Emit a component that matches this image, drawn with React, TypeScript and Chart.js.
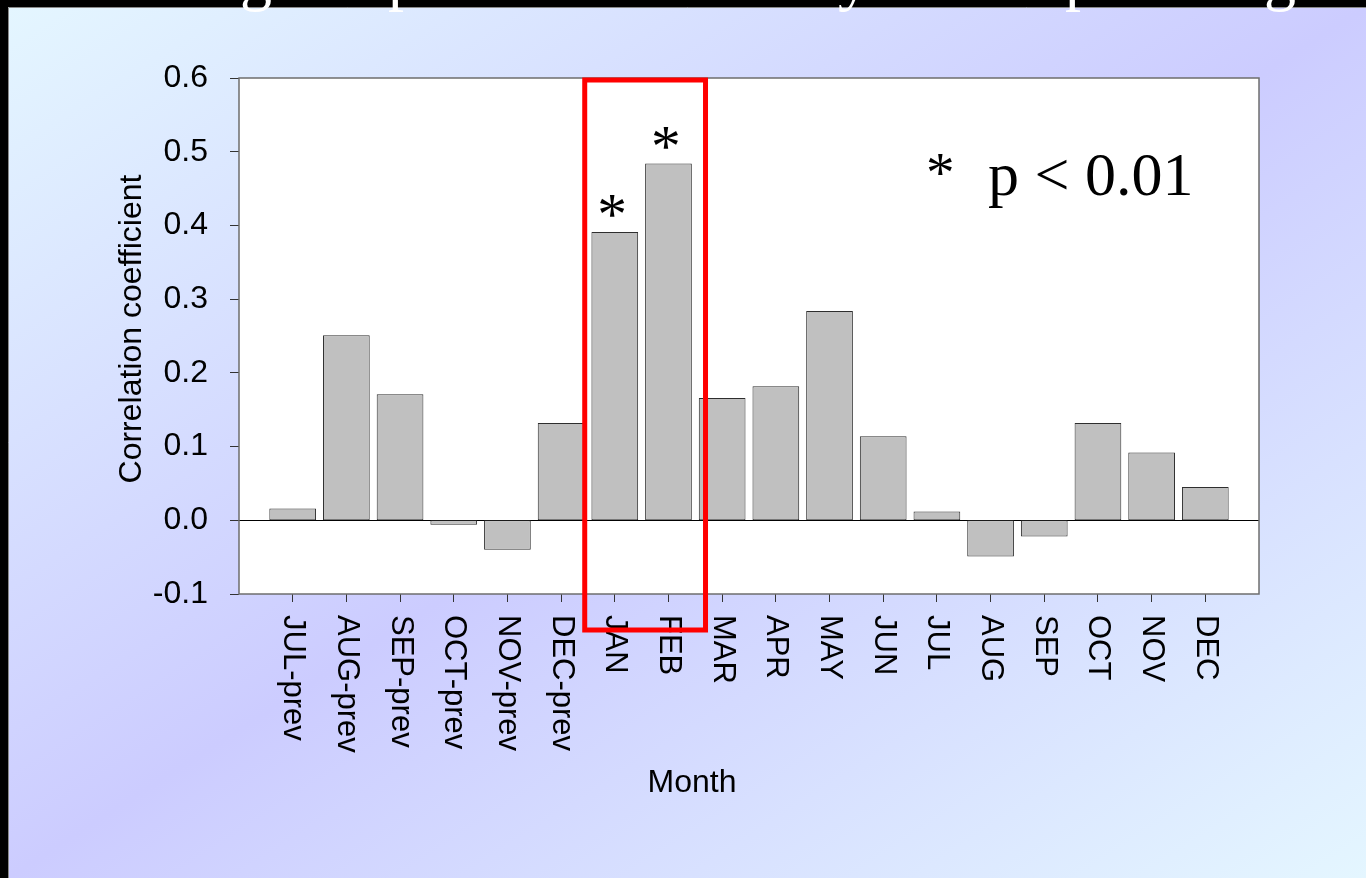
import React, { useEffect, useRef } from "react";
import { Chart, registerables } from "chart.js";

Chart.register(...registerables);

const categories = [
  "JUL-prev", "AUG-prev", "SEP-prev", "OCT-prev", "NOV-prev", "DEC-prev",
  "JAN", "FEB", "MAR", "APR", "MAY", "JUN", "JUL", "AUG", "SEP", "OCT", "NOV", "DEC",
];
const correlation = [
  0.016, 0.251, 0.171, -0.006, -0.040, 0.132,
  0.391, 0.484, 0.166, 0.182, 0.284, 0.114, 0.012, -0.049, -0.022, 0.132, 0.092, 0.045,
];
const yMin = -0.1;
const yMax = 0.6;
const yStep = 0.1;
const significantMonths = ["JAN", "FEB"];
const significanceSymbol = "*";
const significanceLabel = "p < 0.01";
const highlightMonths = ["JAN", "FEB"];
const xAxisTitle = "Month";
const yAxisTitle = "Correlation coefficient";
const titleFragments = ["g", "p", "y", "p", "g"];

const SANS = "Arial, 'Liberation Sans', sans-serif";
const SERIF = "'Times New Roman', 'Liberation Serif', serif";

// padded category axis: one empty slot on each side
const paddedLabels = ["", ...categories, ""];
const paddedData = [null, ...correlation, null];

function drawStar(ctx: CanvasRenderingContext2D, text: string, cx: number, cy: number, inkW: number) {
  ctx.textAlign = "left";
  ctx.textBaseline = "alphabetic";
  ctx.font = `100px ${SERIF}`;
  const m0 = ctx.measureText(text);
  const w0 = m0.actualBoundingBoxRight + m0.actualBoundingBoxLeft;
  const size = w0 > 0 ? (100 * inkW) / w0 : 62;
  ctx.font = `${size}px ${SERIF}`;
  const m = ctx.measureText(text);
  const x = cx - (m.actualBoundingBoxRight - m.actualBoundingBoxLeft) / 2;
  const y = cy + (m.actualBoundingBoxAscent - m.actualBoundingBoxDescent) / 2;
  ctx.fillText(text, x, y);
}

const decorPlugin = {
  id: "decor",
  beforeDraw(chart: any) {
    const { ctx, width, height, chartArea: a } = chart;
    ctx.save();
    ctx.fillStyle = "#000";
    ctx.fillRect(0, 0, width, height);
    const gx = 8, gy = 7, gw = width - gx, gh = height - gy;
    ctx.save();
    ctx.translate(gx, gy);
    ctx.scale(gw, gh);
    const g = ctx.createLinearGradient(0, 0, 1, 1);
    g.addColorStop(0, "#e4f6ff");
    g.addColorStop(0.5, "#ccccff");
    g.addColorStop(1, "#e4f6ff");
    ctx.fillStyle = g;
    ctx.fillRect(0, 0, 1, 1);
    ctx.restore();
    ctx.strokeStyle = "#8a8a8a";
    ctx.lineWidth = 1;
    ctx.beginPath();
    ctx.moveTo(gx + 0.5, height);
    ctx.lineTo(gx + 0.5, gy + 0.5);
    ctx.lineTo(width, gy + 0.5);
    ctx.stroke();
    ctx.fillStyle = "#ffffff";
    ctx.fillRect(a.left, a.top, a.right - a.left, a.bottom - a.top);
    ctx.restore();
  },
  beforeDatasetsDraw(chart: any) {
    const { ctx, chartArea: a, scales } = chart;
    const y0 = Math.round(scales.y.getPixelForValue(0)) + 0.5;
    ctx.save();
    ctx.strokeStyle = "#000";
    ctx.lineWidth = 1;
    ctx.beginPath();
    ctx.moveTo(a.left, y0);
    ctx.lineTo(a.right, y0);
    ctx.stroke();
    ctx.strokeStyle = "#6e6e6e";
    ctx.lineWidth = 1.5;
    ctx.strokeRect(a.left, a.top, a.right - a.left, a.bottom - a.top);
    ctx.restore();
  },
  afterDraw(chart: any) {
    const { ctx, chartArea: a, scales } = chart;
    const xs = scales.x;
    const ys = scales.y;
    ctx.save();
    // x tick labels, rotated clockwise
    ctx.fillStyle = "#000";
    ctx.font = `31px ${SANS}`;
    categories.forEach((c, i) => {
      const x = xs.getPixelForValue(i + 1);
      ctx.save();
      ctx.translate(x, a.bottom + 21);
      ctx.rotate(Math.PI / 2);
      ctx.textAlign = "left";
      ctx.textBaseline = "middle";
      ctx.fillText(c, 0, 0);
      ctx.restore();
    });
    // axis titles
    ctx.font = `32px ${SANS}`;
    ctx.textAlign = "center";
    ctx.textBaseline = "middle";
    ctx.fillText(xAxisTitle, (a.left + a.right) / 2 - 57, 783);
    ctx.save();
    ctx.translate(132, (a.top + a.bottom) / 2 - 7);
    ctx.rotate(-Math.PI / 2);
    ctx.fillText(yAxisTitle, 0, 0);
    ctx.restore();

    // significance stars
    significantMonths.forEach((m) => {
      const i = categories.indexOf(m);
      const x = xs.getPixelForValue(i + 1);
      const y = ys.getPixelForValue(correlation[i]) - 26;
      drawStar(ctx, significanceSymbol, x - 3, y, 25);
    });
    // legend note
    drawStar(ctx, significanceSymbol, 940, 165, 24);
    ctx.font = `62px ${SERIF}`;
    ctx.textAlign = "left";
    ctx.textBaseline = "alphabetic";
    ctx.fillText(significanceLabel, 988, 195);

    // red highlight box
    const spacing = xs.getPixelForValue(2) - xs.getPixelForValue(1);
    const i0 = categories.indexOf(highlightMonths[0]);
    const i1 = categories.indexOf(highlightMonths[highlightMonths.length - 1]);
    const left = xs.getPixelForValue(i0 + 1) - 0.56 * spacing;
    const right = xs.getPixelForValue(i1 + 1) + 0.69 * spacing;
    const top = ys.getPixelForValue(yMax) + 2;
    const bottom = ys.getPixelForValue(yMin) + 36;
    ctx.strokeStyle = "#ff0000";
    ctx.lineWidth = 5;
    ctx.strokeRect(left, top, right - left, bottom - top);

    // title fragments (cut off at top)
    ctx.fillStyle = "#ffffff";
    ctx.font = `64px ${SERIF}`;
    const fx = [240, 388, 838, 1065, 1264];
    titleFragments.forEach((t, k) => {
      ctx.fillText(t, fx[k], -2);
    });
    ctx.restore();
  },
};

export default function App() {
  const ref = useRef<HTMLCanvasElement | null>(null);
  useEffect(() => {
    if (!ref.current) return;
    const chart = new Chart(ref.current, {
      type: "bar",
      data: {
        labels: paddedLabels,
        datasets: [
          {
            data: paddedData as any,
            backgroundColor: "#c0c0c0",
            borderColor: "#2e2e2e",
            borderWidth: 1,
            borderSkipped: false,
            categoryPercentage: 0.87,
            barPercentage: 1,
          },
        ],
      },
      options: {
        animation: false,
        responsive: false,
        maintainAspectRatio: false,
        layout: { padding: { left: 0, top: 78, right: 107, bottom: 0 } },
        plugins: { legend: { display: false }, tooltip: { enabled: false }, title: { display: false } },
        scales: {
          x: {
            type: "category",
            offset: false,
            border: { display: false },
            grid: {
              display: true,
              offset: false,
              drawOnChartArea: false,
              drawTicks: true,
              tickLength: 8,
              tickColor: (c: any) =>
                c.index === 0 || c.index === paddedLabels.length - 1 ? "rgba(0,0,0,0)" : "#333",
            },
            ticks: { autoSkip: false, maxRotation: 0, minRotation: 0, callback: () => "" },
            afterFit: (s: any) => {
              s.height = 284;
            },
          },
          y: {
            min: yMin,
            max: yMax,
            border: { display: false },
            grid: { display: true, drawOnChartArea: false, drawTicks: true, tickLength: 9, tickColor: "#333" },
            ticks: {
              stepSize: yStep,
              padding: 22,
              color: "#000",
              font: { family: SANS, size: 32 },
              callback: (v: any) => (Math.abs(Number(v)) < 1e-9 ? 0 : Number(v)).toFixed(1),
            },
            afterFit: (s: any) => {
              s.width = 239;
            },
          },
        },
      },
      plugins: [decorPlugin],
    });
    return () => chart.destroy();
  }, []);
  return (
    <div style={{ position: "fixed", left: 0, top: 0, width: 1366, height: 878 }}>
      <canvas ref={ref} width={1366} height={878} style={{ width: 1366, height: 878, display: "block" }} />
    </div>
  );
}
